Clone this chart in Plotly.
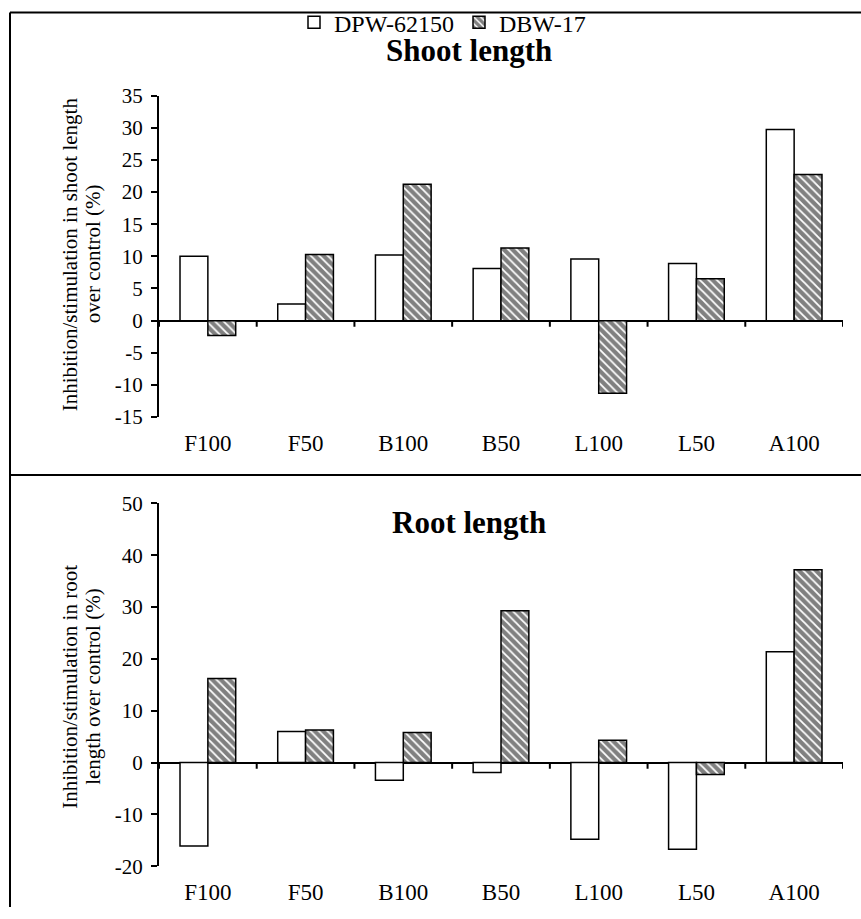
import plotly.graph_objects as go

categories = ["F100", "F50", "B100", "B50", "L100", "L50", "A100"]
shoot_dpw = [10.0, 2.6, 10.2, 8.1, 9.6, 8.9, 29.7]
shoot_dbw = [-2.3, 10.3, 21.2, 11.3, -11.3, 6.5, 22.7]
root_dpw = [-16.1, 6.0, -3.4, -1.9, -14.8, -16.7, 21.4]
root_dbw = [16.2, 6.3, 5.8, 29.3, 4.3, -2.3, 37.2]
shoot_ticks = [-15, -10, -5, 0, 5, 10, 15, 20, 25, 30, 35]
root_ticks = [-20, -10, 0, 10, 20, 30, 40, 50]

FONT = "Liberation Serif"
W, H = 861, 919
xpos = list(range(len(categories)))

# vertical screen-to-page correction observed in the photographs
Y0, S = 11.4, 0.975

def py(p):
    c = (p - Y0) / S
    c = min(max(c, 0.5), H)
    return 1 - c / H

fig = go.Figure()
pattern = dict(shape="\\", bgcolor="#808080", fgcolor="white", size=6, solidity=0.3, fillmode="replace")
white_m = dict(color="white", line=dict(color="black", width=1.5))
hatch_m = dict(color="#808080", pattern=pattern, line=dict(color="black", width=1.5))

fig.add_trace(go.Bar(x=xpos, y=shoot_dpw, name="DPW-62150", marker=white_m, xaxis="x", yaxis="y"))
fig.add_trace(go.Bar(x=xpos, y=shoot_dbw, name="DBW-17", marker=hatch_m, xaxis="x", yaxis="y"))
fig.add_trace(go.Bar(x=xpos, y=root_dpw, name="DPW-62150", marker=white_m, xaxis="x2", yaxis="y2", showlegend=False))
fig.add_trace(go.Bar(x=xpos, y=root_dbw, name="DBW-17", marker=hatch_m, xaxis="x2", yaxis="y2", showlegend=False))

xdom = [159 / W, 843 / W]
xcommon = dict(domain=xdom, range=[-0.5, 6.5], tickmode="array", tickvals=xpos, ticktext=categories,
               showline=False, showgrid=False, zeroline=False, ticks="outside", ticklen=5,
               tickcolor="rgba(0,0,0,0)", tickfont=dict(family=FONT, size=23, color="black"))
ycommon = dict(showline=True, linecolor="black", linewidth=2, ticks="outside", ticklen=6, tickwidth=2,
               tickcolor="black", showgrid=False, zeroline=True, zerolinecolor="black", zerolinewidth=2,
               tickmode="array", ticklabelstandoff=4,
               tickfont=dict(family=FONT, size=21, color="black"))

fig.update_layout(
    width=W, height=H, margin=dict(l=0, r=0, t=0, b=0),
    paper_bgcolor="white", plot_bgcolor="white",
    barmode="group", bargap=0.43, bargroupgap=0,
    xaxis=dict(anchor="y", **xcommon),
    yaxis=dict(anchor="x", domain=[py(417), py(95)], range=[-15, 35],
               tickvals=shoot_ticks, ticktext=[str(t) for t in shoot_ticks], **ycommon),
    xaxis2=dict(anchor="y2", **xcommon),
    yaxis2=dict(anchor="x2", domain=[py(866.7), py(503.3)], range=[-20, 50],
                tickvals=root_ticks, ticktext=[str(t) for t in root_ticks], **ycommon),
    legend=dict(orientation="h", x=294 / W, xanchor="left", y=py(22), yanchor="middle",
                font=dict(family=FONT, size=24, color="black"), itemwidth=30, tracegroupgap=0,
                bgcolor="rgba(0,0,0,0)"),
    font=dict(family=FONT, color="black"),
)

# titles
for txt, yy in (("<b>Shoot length</b>", 50), ("<b>Root length</b>", 522)):
    fig.add_annotation(text=txt, x=469 / W, y=py(yy), xref="paper", yref="paper",
                       xanchor="center", yanchor="middle", showarrow=False,
                       font=dict(family=FONT, size=31, color="black"))
for txt, xx, yy in (("Inhibition/stimulation in shoot length", 70, 254), ("over control (%)", 93, 254),
                    ("Inhibition/stimulation in root", 70, 687), ("length over control (%)", 93, 687)):
    fig.add_annotation(text=txt, x=xx / W, y=py(yy), xref="paper", yref="paper",
                       xanchor="center", yanchor="middle", textangle=-90, showarrow=False,
                       font=dict(family=FONT, size=21, color="black"))

# category boundary tick marks on the zero line
for xr, yr, ln in (("x", "y", 0.95), ("x2", "y2", 1.2)):
    for i in range(len(categories) + 1):
        b = i - 0.5
        fig.add_shape(type="line", xref=xr, yref=yr, x0=b, x1=b, y0=0, y1=-ln,
                      line=dict(color="black", width=2))

# frame
frame = dict(color="black", width=2)
fig.add_shape(type="line", xref="paper", yref="paper", x0=10 / W, x1=10 / W, y0=0, y1=py(7), line=frame)
fig.add_shape(type="line", xref="paper", yref="paper", x0=10 / W, x1=1, y0=py(7), y1=py(7), line=frame)
fig.add_shape(type="line", xref="paper", yref="paper", x0=10 / W, x1=1, y0=py(475), y1=py(475), line=frame)

post = (
    "document.documentElement.style.margin='0';"
    "document.body.style.margin='0';"
    "document.body.style.overflow='hidden';"
    "document.documentElement.style.overflow='hidden';"
)
fig.write_html("out.html", config={"displayModeBar": False}, post_script=post)
